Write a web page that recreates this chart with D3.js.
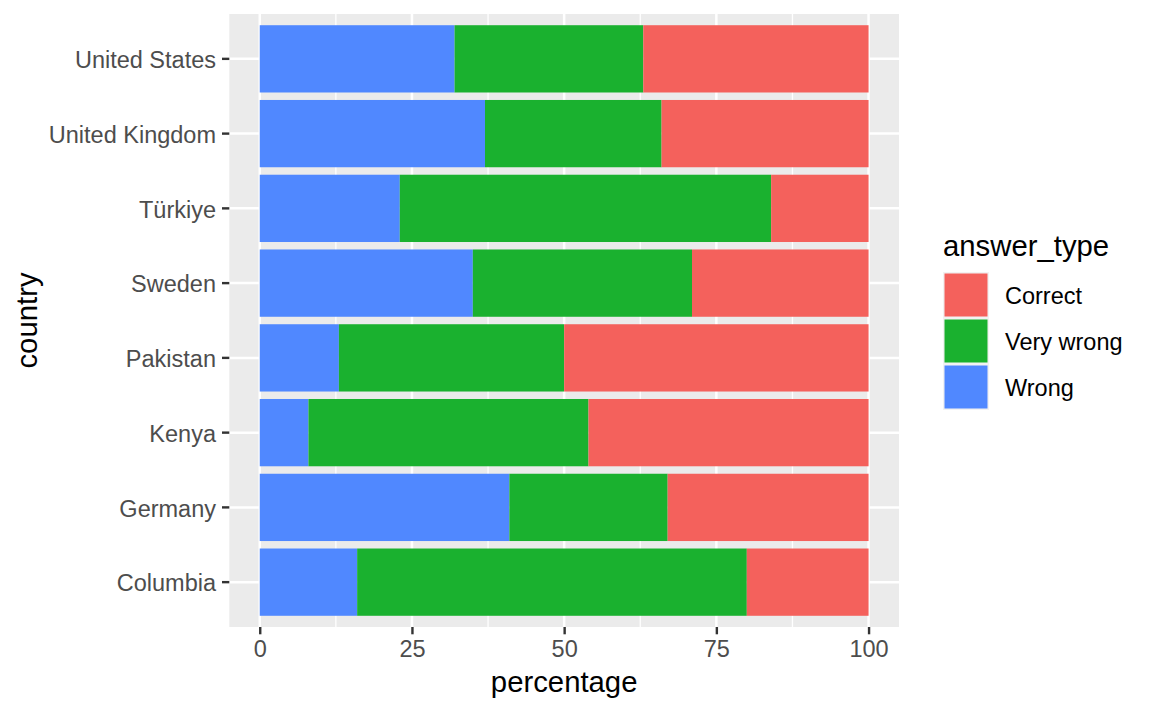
<!DOCTYPE html>
<html>
<head>
<meta charset="utf-8">
<script src="https://cdn.jsdelivr.net/npm/d3@7"></script>
<style>
  html, body { margin: 0; padding: 0; background: #ffffff; }
  svg { display: block; font-family: "Liberation Sans", Arial, Helvetica, sans-serif; }
</style>
</head>
<body>
<script>
// ---- data ----
const countries = ["Columbia", "Germany", "Kenya", "Pakistan", "Sweden", "Türkiye", "United Kingdom", "United States"];
const wrong     = [16, 41,  8, 13, 35, 23, 37, 32];
const veryWrong = [64, 26, 46, 37, 36, 61, 29, 31];
const correct   = [20, 33, 46, 50, 29, 16, 34, 37];
const answerTypes = ["Correct", "Very wrong", "Wrong"];   // legend order
const stackOrder  = ["Wrong", "Very wrong", "Correct"];    // drawn from 0 outward
const xTicks = [0, 25, 50, 75, 100];
const xMinorTicks = [12.5, 37.5, 62.5, 87.5];
const colors = ["#F4615C", "#1AB12F", "#5088FF"];

// ---- layout ----
const W = 1152, H = 711;
const panel = { left: 229.3, right: 899, top: 14, bottom: 627 };

const svg = d3.select("body").append("svg").attr("width", W).attr("height", H);

const rows = countries.map((c, i) => ({
  country: c, "Wrong": wrong[i], "Very wrong": veryWrong[i], "Correct": correct[i]
}));

const x = d3.scaleLinear().domain([-5, 105]).range([panel.left, panel.right]);
const y = d3.scaleBand()
  .domain(countries.slice().reverse())
  .range([panel.top, panel.bottom])
  .paddingInner(0.1)
  .paddingOuter(0.15);
const color = d3.scaleOrdinal().domain(answerTypes).range(colors);

// panel background
svg.append("rect")
  .attr("x", panel.left).attr("y", panel.top)
  .attr("width", panel.right - panel.left).attr("height", panel.bottom - panel.top)
  .attr("fill", "#EBEBEB");

// grid lines
const grid = svg.append("g");
grid.selectAll("line.minor").data(xMinorTicks).join("line")
  .attr("x1", d => x(d)).attr("x2", d => x(d))
  .attr("y1", panel.top).attr("y2", panel.bottom)
  .attr("stroke", "#ffffff").attr("stroke-width", 1.3);
grid.selectAll("line.majx").data(xTicks).join("line")
  .attr("x1", d => x(d)).attr("x2", d => x(d))
  .attr("y1", panel.top).attr("y2", panel.bottom)
  .attr("stroke", "#ffffff").attr("stroke-width", 2.5);
grid.selectAll("line.majy").data(countries).join("line")
  .attr("x1", panel.left).attr("x2", panel.right)
  .attr("y1", d => y(d) + y.bandwidth() / 2).attr("y2", d => y(d) + y.bandwidth() / 2)
  .attr("stroke", "#ffffff").attr("stroke-width", 2.5);

// stacked bars
const series = d3.stack().keys(stackOrder)(rows);
svg.append("g").selectAll("g").data(series).join("g")
  .attr("fill", s => color(s.key))
  .selectAll("rect").data(s => s).join("rect")
  .attr("x", d => x(d[0]))
  .attr("width", d => x(d[1]) - x(d[0]))
  .attr("y", d => y(d.data.country))
  .attr("height", y.bandwidth());

// axes
const tickLen = 7.3;
const xAxis = svg.append("g")
  .attr("transform", `translate(0,${panel.bottom})`)
  .call(d3.axisBottom(x).tickValues(xTicks).tickSize(tickLen).tickPadding(6.5).tickFormat(d3.format("d")));
const yAxis = svg.append("g")
  .attr("transform", `translate(${panel.left},0)`)
  .call(d3.axisLeft(y).tickSize(tickLen).tickPadding(6));
[xAxis, yAxis].forEach(a => {
  a.select(".domain").remove();
  a.selectAll(".tick line").attr("stroke", "#333333").attr("stroke-width", 2.4);
  a.selectAll(".tick text").attr("fill", "#4D4D4D").style("font-size", "23.5px")
    .style("font-family", "'Liberation Sans', Arial, Helvetica, sans-serif");
});
yAxis.selectAll(".tick text").attr("dy", "0.39em");

// axis titles
svg.append("text")
  .attr("x", (panel.left + panel.right) / 2).attr("y", 692)
  .attr("text-anchor", "middle").attr("fill", "#000")
  .style("font-size", "29.3px").text("percentage");
svg.append("text")
  .attr("transform", `translate(36.7,${(panel.top + panel.bottom) / 2}) rotate(-90)`)
  .attr("text-anchor", "middle").attr("fill", "#000")
  .style("font-size", "29.3px").text("country");

// legend
const legend = svg.append("g").attr("transform", "translate(943,0)");
legend.append("text").attr("x", 0).attr("y", 256)
  .attr("fill", "#000").style("font-size", "29.3px").text("answer_type");
const keySize = 46, keyTop = 272;
const items = legend.selectAll("g.item").data(answerTypes).join("g")
  .attr("transform", (d, i) => `translate(0,${keyTop + i * keySize})`);
items.append("rect").attr("width", keySize).attr("height", keySize).attr("fill", "#F2F2F2");
items.append("rect").attr("x", 1.5).attr("y", 1.5)
  .attr("width", keySize - 3).attr("height", keySize - 3)
  .attr("fill", d => color(d));
items.append("text").attr("x", 62).attr("y", keySize / 2 + 9)
  .attr("fill", "#000").style("font-size", "23.5px").text(d => d);
</script>
</body>
</html>
